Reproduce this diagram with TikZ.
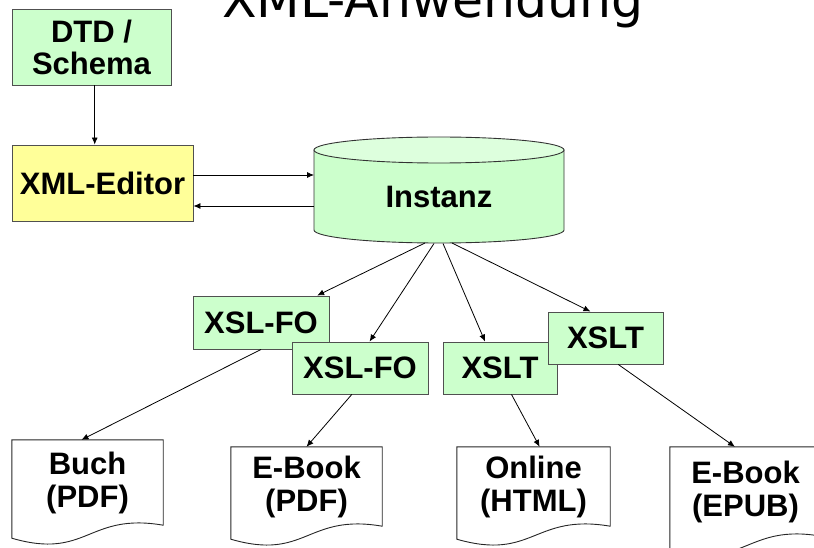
\documentclass[tikz,border=0pt]{standalone}
\usepackage{fontspec}
\setmainfont{Liberation Sans}
\newfontfamily\titlefont{DejaVu Sans}
\usetikzlibrary{arrows.meta,calc}
\definecolor{boxgreen}{HTML}{CCFFCC}
\definecolor{topgreen}{HTML}{DDFFDD}
\definecolor{boxyellow}{HTML}{FFFF99}
\definecolor{boxline}{HTML}{505050}
\newcommand\mydoc[1]{%
  \draw[docline] (#1.north west) -- (#1.north east) -- (#1.south east)
    .. controls ($(#1.south)+(0,-13)$) and ($(#1.south)+(0,35)$) ..
    ($(#1.south west)+(0,13)$) -- cycle;}
\begin{document}
\begin{tikzpicture}[x=1pt,y=-1pt,
  box/.style={draw=boxline, line width=0.9pt, inner sep=0pt,
    font=\fontsize{31}{32}\selectfont\bfseries, align=center},
  gbox/.style={box, fill=boxgreen},
  doctext/.style={inner sep=0pt, font=\fontsize{31}{33}\selectfont\bfseries,
    align=center},
  arr/.style={draw=black, line width=0.8pt, -{Latex[length=7pt,width=6pt]}},
  docline/.style={draw=black!85, line width=0.9pt},
  cyl/.style={draw=black!80, line width=0.9pt}]
\useasboundingbox (0,0) rectangle (814,548);
\clip (0,0) rectangle (814,548);

% title (cut off at the top)
\node[anchor=base, inner sep=0pt, font=\titlefont\fontsize{50.5}{55}\selectfont]
  (title) at (433,18) {XML-Anwendung};

% top boxes
\node[gbox, minimum width=159pt, minimum height=76pt] (dtd) at (91.5,47) {DTD /\\Schema};
\node[box, fill=boxyellow, minimum width=181pt, minimum height=76pt] (editor) at (102.5,183) {XML-Editor};

% cylinder
\filldraw[cyl, fill=boxgreen] (314,150) -- (314,230)
  arc[start angle=180, end angle=360, x radius=125pt, y radius=13pt]
  -- (564,150) -- cycle;
\filldraw[cyl, fill=topgreen] (439,150) ellipse [x radius=125pt, y radius=13pt];
\node[inner sep=0pt, font=\fontsize{31}{32}\selectfont\bfseries] (inst) at (439,197) {Instanz};
\coordinate (cylW) at (314,190);
\coordinate (r1) at (425,243);
\coordinate (r2) at (434,243.5);
\coordinate (r3) at (443,243.5);
\coordinate (r4) at (452,243);

% editor <-> instance
\coordinate (d1) at ($(dtd.south west)!0.52!(dtd.south east)$);
\draw[arr] (d1) -- (d1 |- editor.north);
\coordinate (e1) at ($(editor.east)+(0,-8)$);
\coordinate (e2) at ($(editor.east)+(0,23)$);
\draw[arr] (e1) -- (e1 -| cylW);
\draw[arr] (e2 -| cylW) -- (e2);

% transformation boxes
\node[gbox, minimum width=136pt, minimum height=53pt] (fo1) at (261,322.5) {XSL-FO};
\node[gbox, minimum width=136pt, minimum height=52pt] (fo2) at (360,368) {XSL-FO};
\node[gbox, minimum width=114pt, minimum height=52pt] (xslt1) at (500,368) {XSLT};
\node[gbox, minimum width=115pt, minimum height=52pt] (xslt2) at (605.5,338) {XSLT};

\draw[arr] (r1) -- ($(fo1.north west)!0.91!(fo1.north east)$);
\draw[arr] (r2) -- ($(fo2.north west)!0.57!(fo2.north east)$);
\draw[arr] (r3) -- ($(xslt1.north west)!0.37!(xslt1.north east)$);
\draw[arr] (r4) -- ($(xslt2.north west)!0.37!(xslt2.north east)$);

% documents
\node[doctext, minimum width=151pt, minimum height=85pt] (buch) at (87.5,482.5) {Buch\\(PDF)};
\node[doctext, minimum width=151pt, minimum height=79pt] (ebpdf) at (306.5,486.5) {E-Book\\(PDF)};
\node[doctext, minimum width=153pt, minimum height=79pt] (online) at (533.5,486.5) {Online\\(HTML)};
\node[doctext, minimum width=151pt, minimum height=89pt] (epub) at (745.5,491.5) {E-Book\\(EPUB)};
\mydoc{buch}
\mydoc{ebpdf}
\mydoc{online}
\mydoc{epub}

\draw[arr] (fo1.south) -- ($(buch.north west)!0.46!(buch.north east)$);
\draw[arr] ($(fo2.south west)!0.44!(fo2.south east)$) -- (ebpdf.north);
\draw[arr] ($(xslt1.south west)!0.6!(xslt1.south east)$) -- ($(online.north west)!0.54!(online.north east)$);
\draw[arr] ($(xslt2.south west)!0.61!(xslt2.south east)$) -- ($(epub.north west)!0.43!(epub.north east)$);
\end{tikzpicture}
\end{document}
